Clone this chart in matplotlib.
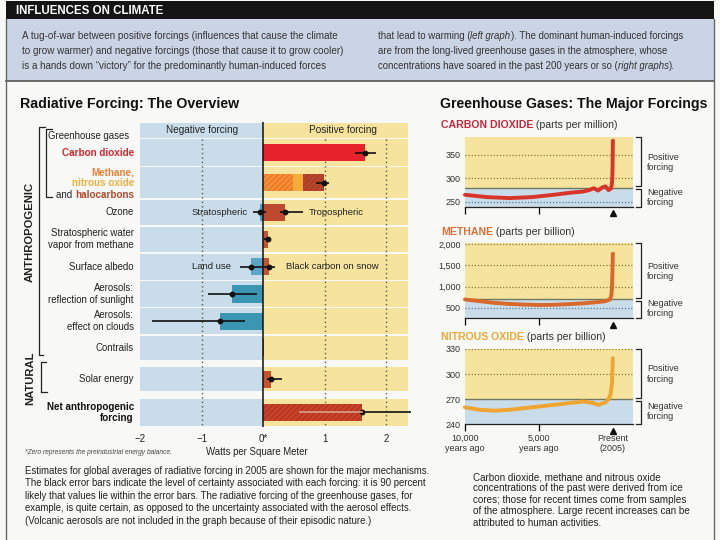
import matplotlib.pyplot as plt
import numpy as np
from matplotlib.patches import Rectangle

plt.rcParams['font.family'] = ['Liberation Sans Narrow', 'Liberation Sans', 'DejaVu Sans']

W, H = 720, 540
BLUE = '#c9dcea'
YELLOW = '#f6e39e'
INK = '#222222'

# radiative forcing in 2005, watts per square meter
rf_names = ['Carbon dioxide', 'Methane, nitrous oxide and halocarbons', 'Ozone',
            'Stratospheric water\nvapor from methane', 'Surface albedo',
            'Aerosols:\nreflection of sunlight', 'Aerosols:\neffect on clouds',
            'Contrails', 'Solar energy', 'Net anthropogenic\nforcing']
rf_value = [1.66, 0.98, 0.35, 0.07, -0.20, -0.50, -0.70, 0.01, 0.12, 1.60]
rf_low = [1.49, 0.86, 0.27, 0.02, -0.38, -0.90, -1.80, np.nan, 0.06, 0.60]
rf_high = [1.83, 1.06, 0.65, 0.13, 0.02, -0.10, -0.30, np.nan, 0.31, 2.40]
rf_colors = ['#e8222a', None, '#bd4a2c', '#c4532f', '#5ba6c8', '#3b96b3',
             '#3b96b3', '#bd4a2c', '#c8512d', '#c9432a']

# greenhouse gas stack: methane, nitrous oxide, halocarbons
ghg_parts = [0.48, 0.16, 0.34]
ghg_colors = ['#f07a28', '#f3ad38', '#b6462c']

# second forcing on the ozone and albedo rows
second_names = ['Stratospheric', 'Black carbon on snow']
second_row = [2, 4]
second_value = [-0.05, 0.10]
second_low = [-0.17, 0.00]
second_high = [0.05, 0.19]
second_colors = ['#4a9cc2', '#c4532f']
main_side_names = ['Tropospheric', 'Land use']

# ice core / atmosphere records, years before 2005
co2_years = [-10000, -8500, -7000, -5500, -4000, -3000, -2000, -1600, -1300, -1000,
             -700, -500, -300, -150, -80, -40, -20, 0]
co2_ppm = [265, 260, 258, 260, 265, 269, 272, 275, 279, 274, 281, 283, 275, 278,
           285, 300, 330, 380]
ch4_years = [-10000, -9000, -8000, -7000, -6000, -5000, -4000, -3000, -2000, -1000,
             -500, -200, -100, -60, -30, -10, 0]
ch4_ppb = [700, 660, 620, 595, 580, 570, 575, 590, 610, 640, 660, 700, 800, 1000,
           1350, 1650, 1775]
n2o_years = [-10000, -9000, -8000, -7000, -6000, -5000, -4000, -3000, -2000, -1300,
             -1000, -500, -280, -150, -60, -30, 0]
n2o_ppb = [260, 257, 256, 257, 259, 261, 263, 265, 267, 265, 263, 266, 270, 276,
           290, 305, 319]

fig = plt.figure(figsize=(7.2, 5.4), dpi=100)
fig.patch.set_facecolor('#f8f8f6')
page = fig.add_axes([0, 0, 1, 1])
page.set_xlim(0, W)
page.set_ylim(H, 0)
page.axis('off')


def box(l, t, r, b):
    return [l / W, 1 - b / H, (r - l) / W, (b - t) / H]


def rich(x, y, parts, size):
    st = dict({'color': '#333333'}, **parts[0][1])
    t = page.text(x, y, parts[0][0], fontsize=size, va='baseline', **st)
    for s, style in parts[1:]:
        st = dict({'color': '#333333'}, **style)
        t = page.annotate(s, xy=(1, 0), xycoords=t, va='bottom', ha='left',
                          fontsize=size, annotation_clip=False, **st)
    return t


# header box
page.add_patch(Rectangle((6, 1), 708, 18, color='#141414', lw=0))
page.text(16, 10.5, 'INFLUENCES ON CLIMATE', color='white', fontsize=8.3,
          fontweight='bold', va='center')
page.add_patch(Rectangle((6, 19), 708, 62, color='#cbd4e5', lw=0))
page.plot([6, 714], [81, 81], color='#555555', lw=1.2)
page.plot([6, 6], [19, 540], color='#666666', lw=1)
page.plot([714, 714], [19, 540], color='#666666', lw=1)

n = {}
it = {'style': 'italic'}
rich(22, 39, [('A tug-of-war between positive forcings (influences that cause the climate', n)], 7.1)
rich(22, 54, [('to grow warmer) and negative forcings (those that cause it to grow cooler)', n)], 7.1)
rich(22, 69, [('is a hands down \u201cvictory\u201d for the predominantly human-induced forces', n)], 7.1)
rich(378, 39, [('that lead to warming (', n), ('left graph', it),
               ('). The dominant human-induced forcings', n)], 6.9)
rich(378, 54, [('are from the long-lived greenhouse gases in the atmosphere, whose', n)], 6.9)
rich(378, 69, [('concentrations have soared in the past 200 years or so (', n),
               ('right graphs', it), (').', n)], 6.9)

page.text(20, 104, 'Radiative Forcing: The Overview', fontsize=10.2, fontweight='bold',
          color='#111111', va='center')
page.text(440, 104, 'Greenhouse Gases: The Major Forcings', fontsize=10.2, fontweight='bold',
          color='#111111', va='center')

# ---------- left chart ----------
axL = fig.add_axes(box(140, 122, 408, 427))
axL.patch.set_visible(False)
xmax = 2.35
axL.set_xlim(-2, xmax)
header_h = 0.6
row_h = np.array([1.0, 1.18, 0.96, 0.97, 1.0, 0.98, 0.98, 0.92, 0.95, 1.05])
gap_before = np.array([0, 0, 0, 0, 0, 0, 0, 0, 0.2, 0.2])
row_top = header_h + np.concatenate([[0], np.cumsum(row_h)[:-1]]) + np.cumsum(gap_before)
ypos = row_top + row_h / 2
total = row_top[-1] + row_h[-1]
axL.set_ylim(total, 0)

spans = [(0, header_h)] + [(t, t + h) for t, h in zip(row_top, row_h)]
for top, bot in spans:
    axL.add_patch(Rectangle((-2, top + 0.03), 2, bot - top - 0.06, color=BLUE, lw=0, zorder=0))
    axL.add_patch(Rectangle((0, top + 0.03), xmax, bot - top - 0.06, color=YELLOW, lw=0, zorder=0))

axL.text(-1, header_h / 2, 'Negative forcing', ha='center', va='center', fontsize=7.2, color=INK)
axL.text(1.3, header_h / 2, 'Positive forcing', ha='center', va='center', fontsize=7.2, color=INK)

for x in [-1, 1, 2]:
    axL.plot([x, x], [header_h, total], ls=(0, (1, 2.2)), color='#5a5a48', lw=1, zorder=1)

bh = 0.62
for i, v in enumerate(rf_value):
    if i == 1:
        continue
    hatch = '//////' if i == len(rf_value) - 1 else None
    axL.barh(ypos[i], v, height=bh, facecolor=rf_colors[i], edgecolor='#b0341f',
             hatch=hatch, lw=0, zorder=2)

left = 0
for v, c, h, ec in zip(ghg_parts, ghg_colors, ['//////', None, '//////'],
                       ['#f59a40', '#f3ad38', '#a83c25']):
    axL.barh(ypos[1], v, left=left, height=bh, facecolor=c, edgecolor=ec,
             hatch=h, lw=0, zorder=2)
    left += v

sy = ypos[second_row]
axL.barh(sy, second_value, height=bh, color=second_colors, lw=0, zorder=2)

axL.axvline(0, color='#111111', lw=1.1, zorder=3)

vals = np.array(rf_value)
lo = np.array(rf_low)
hi = np.array(rf_high)
ok = ~np.isnan(lo)
axL.errorbar(vals[ok], ypos[ok], xerr=[vals[ok] - lo[ok], hi[ok] - vals[ok]], fmt='o',
             color='#111111', ms=3.2, lw=1.2, capsize=0, zorder=4, clip_on=False)
axL.plot([rf_low[-1], rf_value[-1]], [ypos[-1], ypos[-1]], color='#f3a98c', lw=1.2, zorder=5)
sv = np.array(second_value)
axL.errorbar(sv, sy, xerr=[sv - np.array(second_low), np.array(second_high) - sv], fmt='o',
             color='#111111', ms=3.2, lw=1.2, capsize=0, zorder=4)

# names next to the two-part rows
axL.annotate(second_names[0], (second_low[0], sy[0]), xytext=(-4, 0), textcoords='offset points',
             ha='right', va='center', fontsize=6.8, color=INK)
axL.annotate(main_side_names[0], (rf_high[2], ypos[2]), xytext=(4, 0), textcoords='offset points',
             ha='left', va='center', fontsize=6.8, color=INK)
axL.annotate(main_side_names[1], (rf_low[4], ypos[4]), xytext=(-6, 0), textcoords='offset points',
             ha='right', va='center', fontsize=6.8, color=INK)
axL.annotate(second_names[1], (second_high[1], sy[1]), xytext=(8, 0), textcoords='offset points',
             ha='left', va='center', fontsize=6.8, color=INK)

# row labels
lx = -2.1
for i, name in enumerate(rf_names):
    if i == 0:
        axL.text(lx, ypos[i], name, ha='right', va='center', fontsize=7.1, color='#d7262c',
                 fontweight='bold', clip_on=False)
    elif i == 1:
        axL.annotate('Methane,', (lx, ypos[i]), xytext=(0, 7.5), textcoords='offset points',
                     ha='right', va='center', fontsize=7.1, color='#e8823a', fontweight='bold',
                     annotation_clip=False)
        axL.annotate('nitrous oxide', (lx, ypos[i]), xytext=(0, -0.5), textcoords='offset points',
                     ha='right', va='center', fontsize=7.1,
                     color='#f0b040', fontweight='bold', annotation_clip=False)
        halo = axL.annotate('halocarbons', (lx, ypos[i]), xytext=(0, -8.5), textcoords='offset points',
                            ha='right', va='center', fontsize=7.1, color='#b8462c', fontweight='bold',
                            annotation_clip=False)
        axL.annotate('and ', (0, 0), xycoords=halo, ha='right', va='bottom', fontsize=7.1,
                     color=INK, annotation_clip=False)
    elif i == len(rf_names) - 1:
        axL.text(lx, ypos[i], name, ha='right', va='center', fontsize=7.1, color='#111111',
                 fontweight='bold', linespacing=1.2, clip_on=False)
    else:
        axL.text(lx, ypos[i], name, ha='right', va='center', fontsize=6.9, color=INK,
                 linespacing=1.2, clip_on=False)

axL.set_xticks([-2, -1, 0, 1, 2], ['\u22122', '\u22121', '0*', '1', '2'])
axL.tick_params(axis='x', length=0, labelsize=7, pad=5, colors=INK)
axL.set_yticks([])
for s in axL.spines.values():
    s.set_visible(False)

page.text(48, 136, 'Greenhouse gases', fontsize=6.9, color=INK, va='center')
page.plot([52, 46, 46, 52], [129, 129, 197, 197], color=INK, lw=0.9)
page.plot([45, 39, 39, 43], [127, 127, 355, 355], color=INK, lw=0.9)
page.plot([46, 41, 41, 47], [362, 362, 392, 392], color=INK, lw=0.9)
page.text(30, 232, 'ANTHROPOGENIC', rotation=90, ha='center', va='center', fontsize=8.1,
          fontweight='bold', color=INK)
page.text(30, 378, 'NATURAL', rotation=90, ha='center', va='center', fontsize=8.1,
          fontweight='bold', color=INK)

page.text(25, 452, '*Zero represents the preindustrial energy balance.', fontsize=4.8,
          style='italic', color='#444444', va='center')
page.text(257, 452, 'Watts per Square Meter', fontsize=6.9, color=INK, va='center', ha='center')

page.text(25, 466, 'Estimates for global averages of radiative forcing in 2005 are shown for the major mechanisms.\n'
          'The black error bars indicate the level of certainty associated with each forcing: it is 90 percent\n'
          'likely that values lie within the error bars. The radiative forcing of the greenhouse gases, for\n'
          'example, is quite certain, as opposed to the uncertainty associated with the aerosol effects.\n'
          '(Volcanic aerosols are not included in the graph because of their episodic nature.)',
          fontsize=6.95, color=INK, va='top', linespacing=1.3)


# ---------- right charts ----------
def gas_panel(rect, years, values, color, base, ylim, ticks, tick_labels, dotted):
    ax = fig.add_axes(box(*rect))
    ax.set_xlim(-10000, 1360)
    ax.set_ylim(*ylim)
    ax.axhspan(base, ylim[1], color=YELLOW, lw=0, zorder=0)
    ax.axhspan(ylim[0], base, color=BLUE, lw=0, zorder=0)
    ax.axhline(base, color='#6f7860', lw=1, zorder=1)
    for g in dotted:
        ax.axhline(g, ls=(0, (1, 1.5)), color='#8a7a30' if g > base else '#5a7a9a', lw=0.9, zorder=1)
    ax.plot(years, values, color=color, lw=2.8, solid_capstyle='round', zorder=3, clip_on=False)
    for s in ['top', 'right', 'left']:
        ax.spines[s].set_visible(False)
    ax.spines['bottom'].set_color('#222222')
    ax.spines['bottom'].set_linewidth(0.9)
    ax.set_xticks([-10000, -5000, 0])
    ax.tick_params(axis='x', length=5, width=0.9, direction='out', labelbottom=False)
    ax.xaxis.get_major_ticks()[2].tick1line.set_visible(False)
    ax.plot(0, -0.09, marker='^', ms=5, color='#111111', transform=ax.get_xaxis_transform(),
            clip_on=False)
    ax.set_yticks(ticks, tick_labels)
    ax.tick_params(axis='y', length=0, labelsize=6.5, pad=3, colors='#333333')
    bf = (base - ylim[0]) / (ylim[1] - ylim[0])
    ax.plot([1.02, 1.045, 1.045, 1.02], [1, 1, bf + 0.02, bf + 0.02], transform=ax.transAxes,
            color=INK, lw=0.9, clip_on=False)
    ax.plot([1.02, 1.045, 1.045, 1.02], [bf - 0.02, bf - 0.02, 0, 0], transform=ax.transAxes,
            color=INK, lw=0.9, clip_on=False)
    ax.text(1.085, (1 + bf) / 2, 'Positive\nforcing', transform=ax.transAxes, fontsize=6.5,
            color='#333333', va='center', linespacing=1.2)
    ax.text(1.085, bf / 2, 'Negative\nforcing', transform=ax.transAxes, fontsize=6.5,
            color='#333333', va='center', linespacing=1.2)
    return ax


gas_panel((465, 137, 633, 207), co2_years, co2_ppm, '#d8342a', 280, (239, 388),
          [250, 300, 350], ['250', '300', '350'], [250, 300, 350])
gas_panel((465, 243, 633, 318), ch4_years, ch4_ppb, '#d9692a', 700, (265, 2025),
          [500, 1000, 1500, 2000], ['500', '1,000', '1,500', '2,000'], [500, 1000, 1500, 2000])
axN = gas_panel((465, 349, 633, 424), n2o_years, n2o_ppb, '#f0a530', 270, (240, 330),
                [240, 270, 300, 330], ['240', '270', '300', '330'], [300, 330])
axN.tick_params(axis='x', labelbottom=True, labelsize=6.5, pad=2, labelcolor='#333333')
axN.set_xticklabels(['10,000\nyears ago', '5,000\nyears ago', 'Present\n(2005)'])

b = {'fontweight': 'bold'}
rich(441, 128, [('CARBON DIOXIDE', dict(b, color='#c8283a')), (' (parts per million)', n)], 7.6)
rich(441, 235, [('METHANE', dict(b, color='#d8703a')), (' (parts per billion)', n)], 7.6)
rich(441, 340, [('NITROUS OXIDE', dict(b, color='#f0a830')), (' (parts per billion)', n)], 7.6)

page.text(473, 472, 'Carbon dioxide, methane and nitrous oxide\n'
          'concentrations of the past were derived from ice\n'
          'cores; those for recent times come from samples\n'
          'of the atmosphere. Large recent increases can be\n'
          'attributed to human activities.',
          fontsize=7.1, color=INK, va='top', linespacing=1.18)

fig.savefig('out.png', dpi=100, facecolor=fig.get_facecolor())
